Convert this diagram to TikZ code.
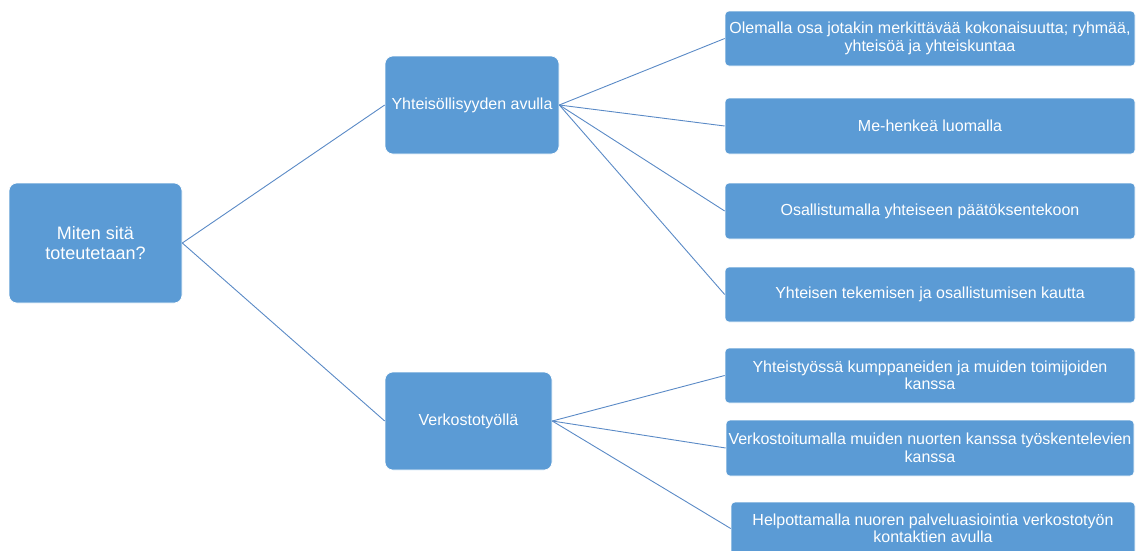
\documentclass[tikz,border=0pt]{standalone}
\usepackage{fontspec}
\setmainfont{Liberation Sans}
\definecolor{boxblue}{HTML}{5B9BD5}
\definecolor{lineblue}{HTML}{5A8AC6}
\begin{document}
\begin{tikzpicture}[x=1pt,y=-1pt,
  bigbox/.style={fill=boxblue,draw=white,line width=0.6pt,rounded corners=8pt,text=white,align=center,inner sep=0pt,font=\fontsize{16}{17.5}\selectfont},
  leafbox/.style={fill=boxblue,draw=white,line width=0.6pt,rounded corners=4pt,text=white,align=center,inner sep=0pt,font=\fontsize{16}{17.5}\selectfont},
  conn/.style={draw=lineblue,line width=0.9pt}]
\useasboundingbox (0,0) rectangle (1136,550);
\node[bigbox,minimum width=173pt,minimum height=120pt,font=\fontsize{18}{19.5}\selectfont] (root) at (95.5,243) {Miten sitä\\toteutetaan?};
\node[bigbox,minimum width=174pt,minimum height=98pt] (yht) at (472,105) {Yhteisöllisyyden avulla};
\node[bigbox,minimum width=167pt,minimum height=98pt] (verk) at (468.5,421) {Verkostotyöllä};
\node[leafbox,minimum width=410pt,minimum height=55pt] (a1) at (930,38.5) {Olemalla osa jotakin merkittävää kokonaisuutta; ryhmää,\\yhteisöä ja yhteiskuntaa};
\node[leafbox,minimum width=410pt,minimum height=56pt] (a2) at (930,126) {Me-henkeä luomalla};
\node[leafbox,minimum width=410pt,minimum height=56pt] (a3) at (930,211) {Osallistumalla yhteiseen päätöksentekoon};
\node[leafbox,minimum width=410pt,minimum height=55pt] (a4) at (930,294.5) {Yhteisen tekemisen ja osallistumisen kautta};
\node[leafbox,minimum width=410pt,minimum height=55pt] (b1) at (930,375.5) {Yhteistyössä kumppaneiden ja muiden toimijoiden\\kanssa};
\node[leafbox,minimum width=408pt,minimum height=56pt] (b2) at (930,448) {Verkostoitumalla muiden nuorten kanssa työskentelevien\\kanssa};
\node[leafbox,minimum width=404pt,minimum height=53pt] (b3) at (933,528.5) {Helpottamalla nuoren palveluasiointia verkostotyön\\kontaktien avulla};
\draw[conn] (root.east) -- (yht.west);
\draw[conn] (root.east) -- (verk.west);
\foreach \n in {a1,a2,a3,a4} \draw[conn] (yht.east) -- (\n.west);
\foreach \n in {b1,b2,b3} \draw[conn] (verk.east) -- (\n.west);
\end{tikzpicture}
\end{document}
